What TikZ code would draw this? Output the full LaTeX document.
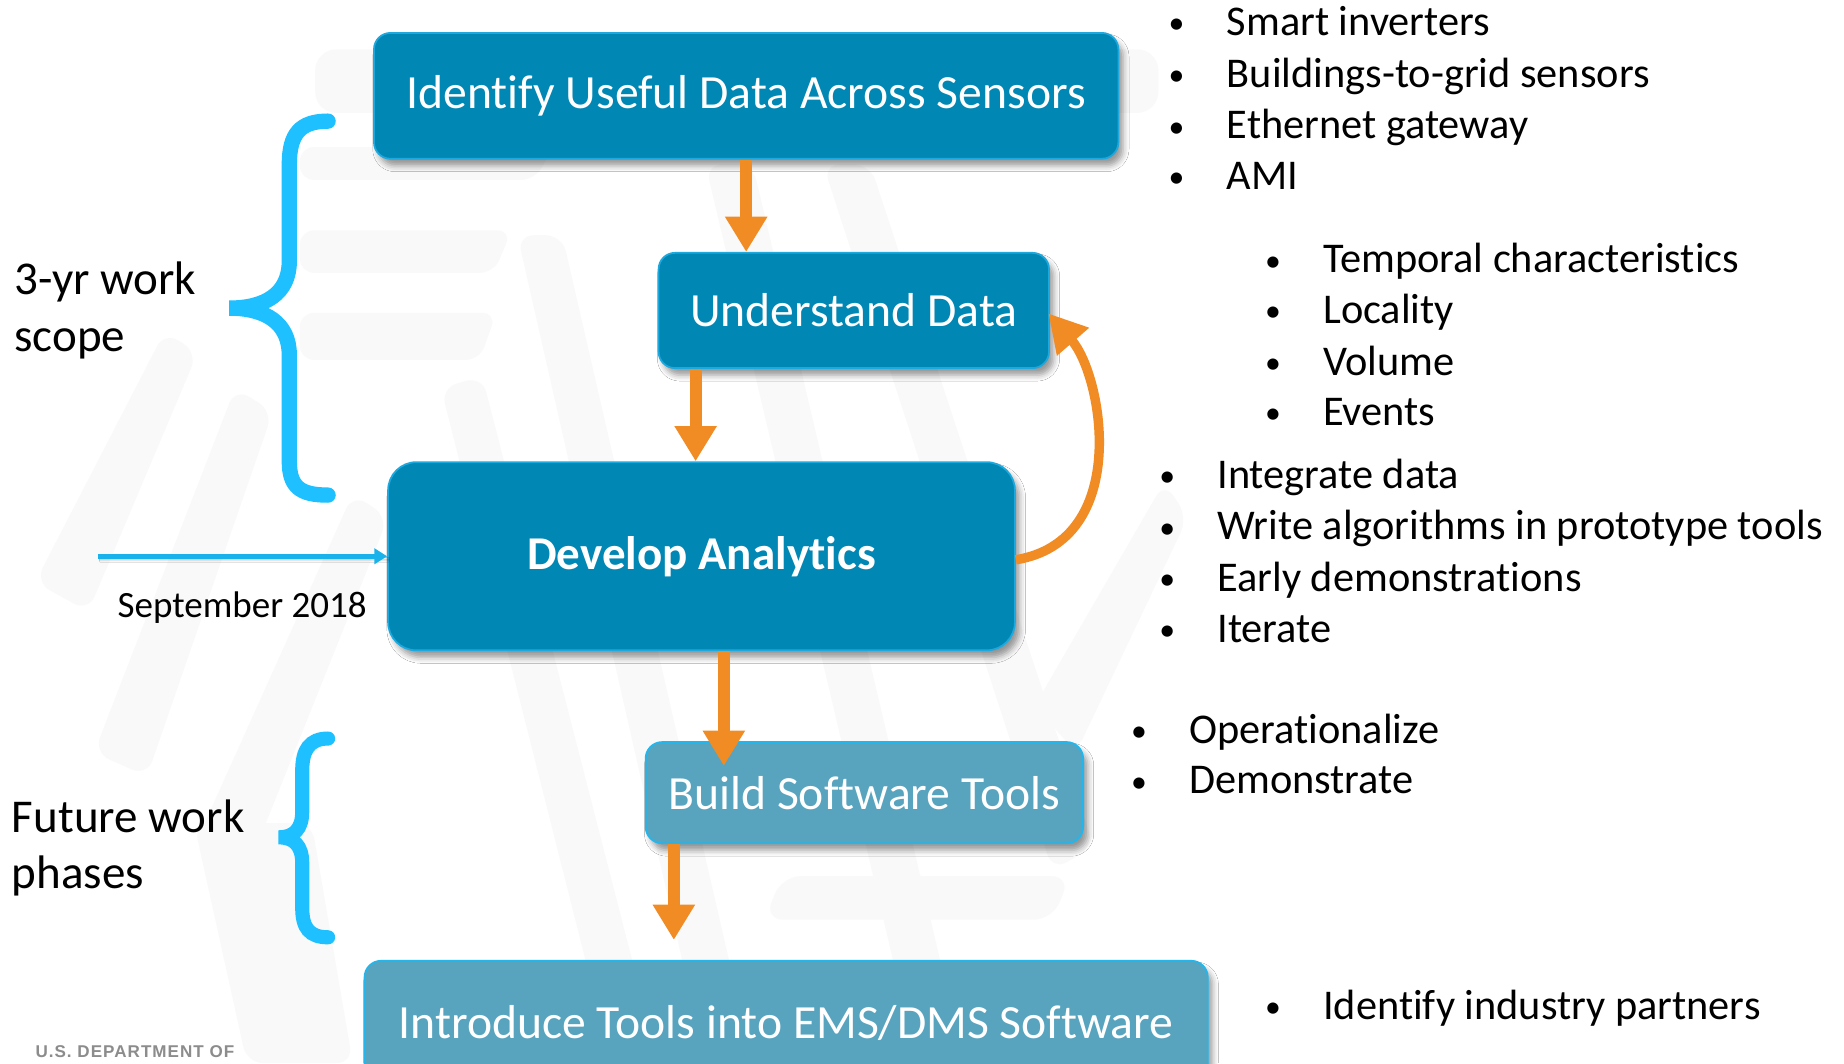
\documentclass[tikz,border=0pt]{standalone}
\usepackage{fontspec}
\setmainfont{Carlito}[Ligatures=NoCommon]
\newfontfamily\agencyfont[LetterSpace=6]{Liberation Sans}
\usetikzlibrary{arrows.meta,shadows.blur}

\definecolor{boxblue}{HTML}{0087B4}
\definecolor{boxedge}{HTML}{1DA8DE}
\definecolor{paleblue}{HTML}{58A4BF}
\definecolor{paleedge}{HTML}{22B6EC}
\definecolor{flow}{HTML}{F18B24}
\definecolor{bracecol}{HTML}{1EC0FF}
\definecolor{startline}{HTML}{1AB2EA}
\definecolor{wmark}{HTML}{F9F9F9}
\definecolor{footgray}{HTML}{8C8C8C}

\tikzset{
  stage/.style={rectangle, rounded corners=14pt, fill=boxblue, draw=boxedge,
    line width=1.5pt, text=white, inner sep=0pt,
    font=\fontsize{40.5}{48}\selectfont,
    blur shadow={shadow xshift=4pt, shadow yshift=-6pt,
      shadow blur radius=5pt, shadow opacity=40}},
  palestage/.style={stage, fill=paleblue, draw=paleedge},
  flowarrow/.style={draw=flow, line width=10pt,
    -{Triangle[width=34pt,length=30pt]}},
  phasebrace/.style={draw=bracecol, line width=13pt, line cap=round},
  sidelabel/.style={anchor=west, align=left, inner sep=0pt,
    font=\fontsize{40}{48}\selectfont},
  bul/.style={anchor=base west, inner sep=0pt,
    font=\fontsize{36}{43}\selectfont,
    execute at begin node={\llap{\raisebox{1.5pt}{\fontsize{27}{27}\selectfont\textbullet}\hspace{36pt}}}},
  wm/.style={fill=wmark, draw=none}
}

\begin{document}
\begin{tikzpicture}[x=1pt,y=-1pt]
\path[use as bounding box] (0,0) rectangle (1568,904);
\clip (0,0) rectangle (1568,904);
\fill[white] (0,0) rectangle (1568,904);

% faint emblem in the background
\fill[wm, rounded corners=18pt] (268,42) rectangle (985,96);
\fill[wm, rounded corners=12pt] (255,125) -- (470,125) -- (455,153) -- (255,153) -- cycle;
\fill[wm, rounded corners=12pt] (255,196) -- (435,196) -- (420,232) -- (255,232) -- cycle;
\fill[wm, rounded corners=12pt] (255,266) -- (422,266) -- (408,306) -- (255,306) -- cycle;
\fill[wm, rounded corners=14pt] (30,495) -- (140,282) -- (168,300) -- (75,520) -- cycle;
\fill[wm, rounded corners=14pt] (80,640) -- (200,330) -- (232,350) -- (125,660) -- cycle;
\fill[wm, rounded corners=14pt] (165,720) -- (300,420) -- (330,440) -- (210,740) -- cycle;
\fill[wm, rounded corners=14pt] (440,200) -- (478,200) -- (640,904) -- (600,904) -- cycle;
\fill[wm, rounded corners=14pt] (375,330) -- (410,320) -- (560,904) -- (520,904) -- cycle;
\fill[wm, rounded corners=14pt] (600,140) -- (640,140) -- (820,904) -- (780,904) -- cycle;
\fill[wm, rounded corners=14pt] (700,140) -- (740,140) -- (930,720) -- (895,740) -- cycle;
\fill[wm, rounded corners=14pt] (165,700) -- (265,700) -- (300,904) -- (210,904) -- cycle;
\fill[wm, rounded corners=16pt] (665,745) -- (910,745) -- (895,782) -- (650,782) -- cycle;
\fill[wm, rounded corners=14pt] (880,600) -- (990,410) -- (1010,440) -- (915,640) -- cycle;

% process stages
\node[stage, minimum width=633pt, minimum height=107pt] (b1) at (634.5,81.5)
  {Identify Useful Data Across Sensors};
\node[stage, minimum width=332pt, minimum height=98pt] (b2) at (726,264)
  {Understand Data};
\node[stage, rounded corners=24pt, minimum width=533pt, minimum height=160pt,
  font=\fontsize{40}{48}\selectfont\bfseries] (b3) at (596.5,473)
  {Develop Analytics};
\node[palestage, minimum width=372pt, minimum height=86pt] (b4) at (735,674)
  {\raisebox{-6pt}{Build Software Tools}};
\node[palestage, minimum width=717pt, minimum height=106pt] (b5) at (668.5,870)
  {Introduce Tools into EMS/DMS Software};

% flow between stages
\draw[flowarrow] (b1.south) -- (b1.south |- b2.north);
\draw[flowarrow] ([xshift=-5pt]b3.north |- b2.south) -- ([xshift=-5pt]b3.north);
\draw[flowarrow, shorten >=-21pt] ([xshift=19pt]b3.south) -- ([xshift=19pt]b3.south |- b4.north);
\draw[flowarrow, shorten >=17pt] ([xshift=-162pt]b4.south) -- ([xshift=-162pt]b4.south |- b5.north);
\draw[draw=flow, line width=8pt, -{Triangle[width=34pt,length=32pt]}, shorten >=-2pt]
  ([yshift=-3pt]b3.east) .. controls (962,460) and (938,320) .. ([yshift=-4pt]b2.east);

% start marker
\coordinate (start) at (83,473);
\draw[draw=startline, line width=4pt, -{Triangle[width=13pt,length=11pt]},
  blur shadow={shadow xshift=2pt, shadow yshift=-3pt, shadow blur radius=2pt, shadow opacity=30}]
  (start) -- (b3.west);
\node[anchor=base east, inner sep=0pt, font=\fontsize{31.5}{36}\selectfont] (sept)
  at (312,525) {September 2018};

% scope braces
\draw[phasebrace] (279,103) .. controls (255,103) and (246,114) .. (246,140)
  -- (246,222) .. controls (246,250) and (225,262) .. (195,262)
  .. controls (225,262) and (246,274) .. (246,302)
  -- (246,392) .. controls (246,414) and (255,421) .. (279,421);
\draw[phasebrace, line width=12pt] (279,628) .. controls (263,628) and (257,638) .. (257,655)
  -- (257,690) .. controls (257,705) and (250,712) .. (237,712)
  .. controls (250,712) and (257,719) .. (257,734)
  -- (257,772) .. controls (257,789) and (263,797) .. (279,797);
\node[sidelabel] (scope) at (12,264) {3-yr work\\scope};
\node[sidelabel] (future) at (10,721) {Future work\\phases};

% notes beside the stages
\node[bul] (n1) at (1043,30) {Smart inverters};
\node[bul] (n2) at (1043,74) {Buildings-to-grid sensors};
\node[bul] (n3) at (1043,118) {Ethernet gateway};
\node[bul] (n4) at (1043,161) {AMI};
\node[bul] (m1) at (1125,232) {Temporal characteristics};
\node[bul] (m2) at (1125,275) {Locality};
\node[bul] (m3) at (1125,319) {Volume};
\node[bul] (m4) at (1125,362) {Events};
\node[bul] (p1) at (1035,415) {Integrate data};
\node[bul] (p2) at (1035,459) {Write algorithms in prototype tools};
\node[bul] (p3) at (1035,503) {Early demonstrations};
\node[bul] (p4) at (1035,546) {Iterate};
\node[bul] (q1) at (1011,632) {Operationalize};
\node[bul] (q2) at (1011,675) {Demonstrate};
\node[bul] (r1) at (1125,867) {Identify industry partners};

% footer
\node[anchor=base west, inner sep=0pt, text=footgray,
  font=\agencyfont\bfseries\fontsize{14.5}{16}\selectfont] (foot) at (30,899)
  {U.S. DEPARTMENT OF};
\end{tikzpicture}
\end{document}
